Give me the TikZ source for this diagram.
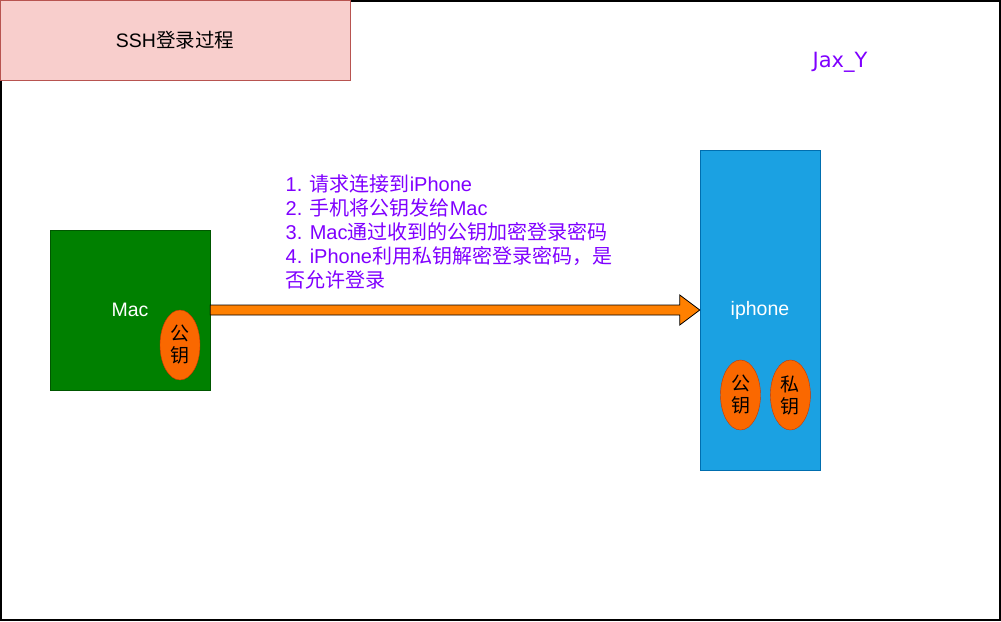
\documentclass[tikz,border=0pt]{standalone}
\usepackage{fontspec}
\setmainfont{Liberation Sans}
\newfontfamily\cjk{Noto Sans CJK SC}
\newfontfamily\signfont{DejaVu Sans}
\usepackage{tikz}
\usetikzlibrary{positioning, shapes.geometric, calc}
\definecolor{titlefill}{HTML}{F8CECC}
\definecolor{titleedge}{HTML}{B85450}
\definecolor{macfill}{HTML}{008000}
\definecolor{macedge}{HTML}{005700}
\definecolor{phonefill}{HTML}{1BA1E2}
\definecolor{phoneedge}{HTML}{006EAF}
\definecolor{keyfill}{HTML}{FA6800}
\definecolor{keyedge}{HTML}{C73500}
\definecolor{arrowfill}{HTML}{FF8000}
\definecolor{stepcolor}{HTML}{7F00FF}
\tikzset{%
	pageframe/.style={draw=black, line width=1.5pt},
	titlebox/.style={draw=titleedge, fill=titlefill, rectangle, minimum width=350pt,%
		minimum height=80pt, inner sep=0pt, font=\fontsize{19.5}{23}\selectfont},
	host/.style={draw, rectangle, text=white, inner sep=0pt, font=\fontsize{19.5}{23}\selectfont},
	mac/.style={host, fill=macfill, draw=macedge, minimum size=160pt},
	phone/.style={host, fill=phonefill, draw=phoneedge, minimum width=120pt, minimum height=320pt},
	keyoval/.style={draw=keyedge, fill=keyfill, ellipse, minimum width=40pt, minimum height=70pt,%
		inner sep=0pt, align=center, font=\cjk\fontsize{19}{22}\selectfont},
	bigarrow/.style={draw=black, fill=arrowfill, line width=0.8pt, line join=miter},
	steptext/.style={text=stepcolor, align=left, inner sep=0pt, font=\fontsize{20}{24}\selectfont},
	signature/.style={text=stepcolor, inner sep=0pt, font=\signfont\fontsize{21}{24}\selectfont}
}
\begin{document}
\begin{tikzpicture}[x=1pt, y=-1pt]
	\useasboundingbox (0,0) rectangle (1001,621);
	\draw[pageframe] (0.75,0.75) rectangle (999.75,619.75);
	\node[titlebox] (title) at (175,40) {SSH{\cjk 登录过程}};
	\node[signature] (author) at (840,62) {Jax\_Y};
	\node[mac] (mac) at (130,310) {Mac};
	\node[phone] (phone) at (760,310) {iphone};
	\node[keyoval] (mac-pub) at (180,345) {公\\钥};
	\node[keyoval] (phone-pub) at (740.5,395) {公\\钥};
	\node[keyoval] (phone-priv) [right=9.5pt of phone-pub] {私\\钥};
	\draw[bigarrow] ($(mac.east)+(0,-5)$) -- ($(phone.west)+(-20,-5)$) -- ($(phone.west)+(-20,-15)$)%
		-- (phone.west) -- ($(phone.west)+(-20,15)$) -- ($(phone.west)+(-20,5)$) -- ($(mac.east)+(0,5)$) -- cycle;
	\node[steptext, anchor=west] (steps) at (285.5,232) {1. {\cjk 请求连接到}iPhone\\2. {\cjk 手机将公钥发给}Mac\\3. Mac{\cjk 通过收到的公钥加密登录密码}\\4. iPhone{\cjk 利用私钥解密登录密码，是}\\{\cjk 否允许登录}};
\end{tikzpicture}
\end{document}
